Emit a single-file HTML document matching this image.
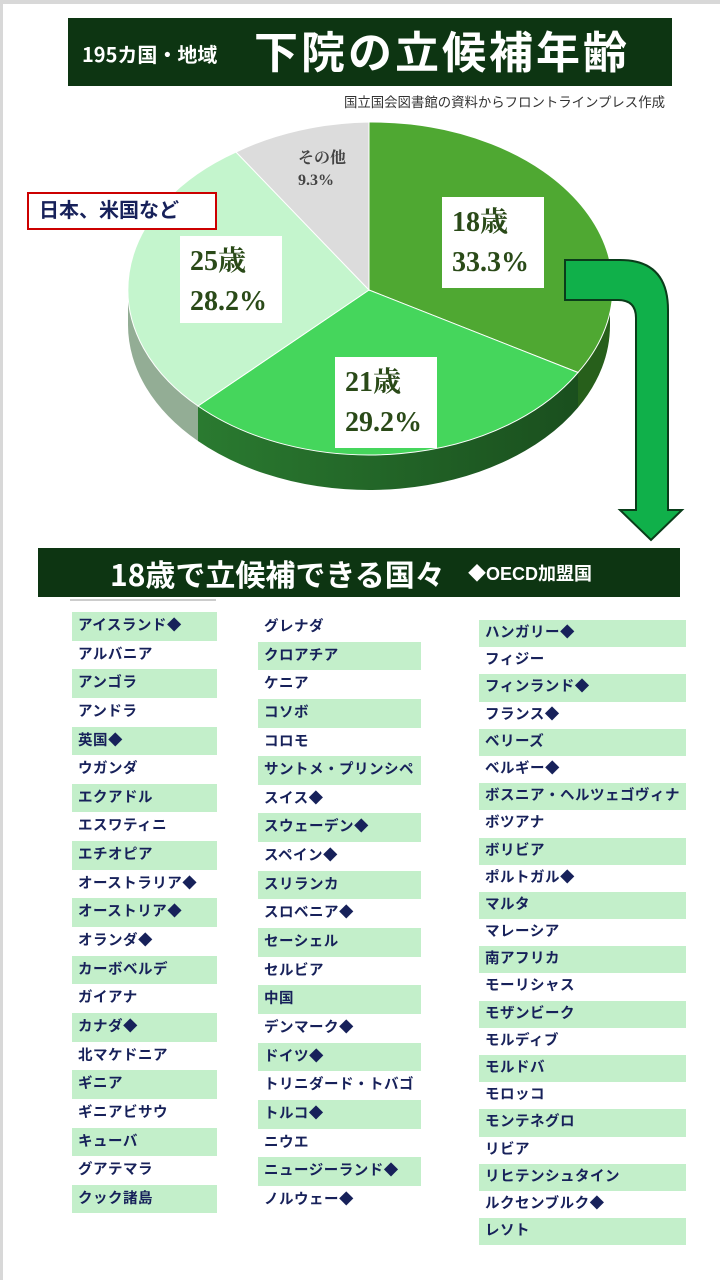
<!DOCTYPE html>
<html><head><meta charset="utf-8">
<style>
*{margin:0;padding:0;box-sizing:border-box}
body{width:720px;height:1280px;background:#fff;position:relative;overflow:hidden;font-family:"Liberation Sans","Noto Sans CJK JP",sans-serif}
.a{position:absolute}
.col{position:absolute;}
.col div{height:28.65px;line-height:28.65px;padding-left:6px;font-size:14.5px;font-weight:bold;color:#17215a;white-space:nowrap;letter-spacing:0.5px}
.col div.g{background:#c3efca}
.col.c3 div{height:27.2px;line-height:27.2px}
.lbl{position:absolute;background:#fff;font-family:"Liberation Serif","Noto Serif CJK JP",serif;font-weight:bold;color:#2a4a18;font-size:28px;line-height:40px;padding:6px 0 0 10px}
</style></head><body>
<div class="a" style="left:0;top:0;width:720px;height:4px;background:#d8d8d8"></div>
<div class="a" style="left:0;top:0;width:3px;height:1280px;background:#d8d8d8"></div>

<div class="a" style="left:68px;top:18px;width:604px;height:68px;background:#0d3512"></div>
<div class="a" style="left:82px;top:42px;color:#fff;font-size:20px;font-weight:bold;font-family:'Noto Sans CJK JP',sans-serif;line-height:24px">195カ国・地域</div>
<div class="a" style="left:254px;top:22px;color:#fff;font-size:44px;font-weight:bold;font-family:'Noto Sans CJK JP',sans-serif;line-height:54px;letter-spacing:3px">下院の立候補年齢</div>
<div class="a" style="left:344px;top:93px;color:#333;font-size:13.4px;line-height:17px;font-family:'Noto Sans CJK JP',sans-serif">国立国会図書館の資料からフロントラインプレス作成</div>

<svg class="a" style="left:0;top:0" width="720" height="560">
<defs>
<linearGradient id="g21" x1="0" x2="1" y1="0" y2="0"><stop offset="0" stop-color="#2a7a30"/><stop offset="1" stop-color="#1a4f1e"/></linearGradient>
</defs>
<path d="M610,290 A241,165 0 0 1 578,372.5 L578,407.5 A241,165 0 0 0 610,325 Z" fill="#275f1b"/>
<path d="M578,372.5 A241,165 0 0 1 198,406 L198,441 A241,165 0 0 0 578,407.5 Z" fill="url(#g21)"/>
<path d="M198,406 A241,165 0 0 1 128,290 L128,325 A241,165 0 0 0 198,441 Z" fill="#93ad95"/>
<path d="M369,290 L369,122 A241,165 0 0 1 578,372.5 Z" fill="#4fa832" stroke="#fff" stroke-width="1"/>
<path d="M369,290 L578,372.5 A241,165 0 0 1 198,406 Z" fill="#45d65c" stroke="#fff" stroke-width="1"/>
<path d="M369,290 L198,406 A241,165 0 0 1 236,152 Z" fill="#c4f5cd" stroke="#fff" stroke-width="1"/>
<path d="M369,290 L236,152 A241,165 0 0 1 369,122 Z" fill="#dcdcdc" stroke="#fff" stroke-width="1"/>
<path d="M565,260 L620,260 Q668,260 668,310 L668,510 L682,510 L651,540 L620,510 L636,510 L636,318 Q636,300 618,300 L565,300 Z" fill="#10b04a" stroke="#0a3d1a" stroke-width="2"/>
</svg>

<div class="lbl" style="left:442px;top:197px;width:102px;height:91px">18歳<br>33.3%</div>
<div class="lbl" style="left:335px;top:357px;width:102px;height:91px">21歳<br>29.2%</div>
<div class="lbl" style="left:180px;top:236px;width:102px;height:87px">25歳<br>28.2%</div>
<div class="a" style="left:298px;top:148px;color:#444;font-weight:bold;font-size:16px;line-height:22px;font-family:'Liberation Serif','Noto Serif CJK JP',serif">その他<br>9.3%</div>
<div class="a" style="left:27px;top:192px;width:190px;height:38px;border:2px solid #c00;background:#fff;color:#17215a;font-weight:bold;font-size:20px;line-height:34px;padding-left:10px">日本、米国など</div>

<div class="a" style="left:38px;top:548px;width:642px;height:49px;background:#0d3512"></div>
<div class="a" style="left:110px;top:552px;color:#fff;font-size:30px;font-weight:bold;line-height:42px;font-family:'Noto Sans CJK JP',sans-serif">18歳で立候補できる国々</div>
<div class="a" style="left:468px;top:560px;color:#fff;font-size:18px;font-weight:bold;line-height:28px">◆OECD加盟国</div>
<div class="a" style="left:70px;top:599px;width:146px;height:2px;background:#ccc"></div>

<div class="col" style="left:72px;top:612px;width:145px">
<div class="g">アイスランド◆</div><div>アルバニア</div><div class="g">アンゴラ</div><div>アンドラ</div><div class="g">英国◆</div><div>ウガンダ</div><div class="g">エクアドル</div><div>エスワティニ</div><div class="g">エチオピア</div><div>オーストラリア◆</div><div class="g">オーストリア◆</div><div>オランダ◆</div><div class="g">カーボベルデ</div><div>ガイアナ</div><div class="g">カナダ◆</div><div>北マケドニア</div><div class="g">ギニア</div><div>ギニアビサウ</div><div class="g">キューバ</div><div>グアテマラ</div><div class="g">クック諸島</div>
</div>
<div class="col" style="left:258px;top:613px;width:163px">
<div>グレナダ</div><div class="g">クロアチア</div><div>ケニア</div><div class="g">コソボ</div><div>コロモ</div><div class="g">サントメ・プリンシペ</div><div>スイス◆</div><div class="g">スウェーデン◆</div><div>スペイン◆</div><div class="g">スリランカ</div><div>スロベニア◆</div><div class="g">セーシェル</div><div>セルビア</div><div class="g">中国</div><div>デンマーク◆</div><div class="g">ドイツ◆</div><div>トリニダード・トバゴ</div><div class="g">トルコ◆</div><div>ニウエ</div><div class="g">ニュージーランド◆</div><div>ノルウェー◆</div>
</div>
<div class="col c3" style="left:479px;top:620px;width:207px">
<div class="g">ハンガリー◆</div><div>フィジー</div><div class="g">フィンランド◆</div><div>フランス◆</div><div class="g">ベリーズ</div><div>ベルギー◆</div><div class="g">ボスニア・ヘルツェゴヴィナ</div><div>ボツアナ</div><div class="g">ボリビア</div><div>ポルトガル◆</div><div class="g">マルタ</div><div>マレーシア</div><div class="g">南アフリカ</div><div>モーリシャス</div><div class="g">モザンビーク</div><div>モルディブ</div><div class="g">モルドバ</div><div>モロッコ</div><div class="g">モンテネグロ</div><div>リビア</div><div class="g">リヒテンシュタイン</div><div>ルクセンブルク◆</div><div class="g">レソト</div>
</div>
</body></html>
